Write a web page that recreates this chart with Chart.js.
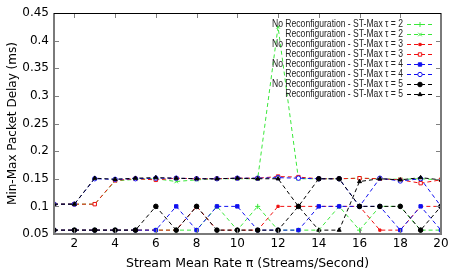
<!DOCTYPE html>
<html>
<head>
<meta charset="utf-8">
<script src="https://cdn.jsdelivr.net/npm/chart.js@4.4.0/dist/chart.umd.min.js"></script>
<style>
    html, body { margin: 0; padding: 0; background: #fff; }
    #delayChart { display: block; }
</style>
</head>
<body>
<canvas id="delayChart" width="457" height="274"></canvas>
<script>
// stream mean rate (x) and tick labels
const rates = [1, 2, 3, 4, 5, 6, 7, 8, 9, 10, 11, 12, 13, 14, 15, 16, 17, 18, 19, 20];
const xTicks = [2, 4, 6, 8, 10, 12, 14, 16, 18, 20];
const yTicks = [0.05, 0.1, 0.15, 0.2, 0.25, 0.3, 0.35, 0.4, 0.45];

const seriesLabels = [
    "No Reconfiguration - ST-Max τ = 2",
    "Reconfiguration - ST-Max τ = 2",
    "No Reconfiguration - ST-Max τ = 3",
    "Reconfiguration - ST-Max τ = 3",
    "No Reconfiguration - ST-Max τ = 4",
    "Reconfiguration - ST-Max τ = 4",
    "No Reconfiguration - ST-Max τ = 5",
    "Reconfiguration - ST-Max τ = 5"
];

// min-max packet delay (ms)
const noReconf2 = [0.057, 0.057, 0.057, 0.057, 0.057, 0.057, 0.057, 0.057, 0.1, 0.057, 0.1, 0.057, 0.057, 0.057, 0.1, 0.057, 0.1, 0.1, 0.057, 0.057];
const reconf2   = [0.104, 0.104, 0.104, 0.146, 0.149, 0.15, 0.145, 0.148, 0.15, 0.15, 0.15, 0.425, 0.15, 0.15, 0.15, 0.151, 0.15, 0.149, 0.15, 0.148];
const noReconf3 = [0.057, 0.057, 0.057, 0.057, 0.057, 0.057, 0.057, 0.1, 0.057, 0.057, 0.057, 0.1, 0.1, 0.1, 0.1, 0.1, 0.057, 0.057, 0.1, 0.1];
const reconf3   = [0.104, 0.104, 0.104, 0.147, 0.15, 0.148, 0.151, 0.15, 0.15, 0.151, 0.151, 0.154, 0.153, 0.15, 0.15, 0.151, 0.15, 0.148, 0.142, 0.148];
const noReconf4 = [0.057, 0.057, 0.057, 0.057, 0.057, 0.057, 0.1, 0.057, 0.1, 0.1, 0.057, 0.057, 0.057, 0.1, 0.1, 0.1, 0.1, 0.057, 0.1, 0.057];
const reconf4   = [0.104, 0.104, 0.15, 0.149, 0.15, 0.151, 0.151, 0.15, 0.15, 0.151, 0.151, 0.152, 0.151, 0.15, 0.15, 0.1, 0.151, 0.146, 0.15, 0.1];
const noReconf5 = [0.057, 0.057, 0.057, 0.057, 0.057, 0.1, 0.057, 0.1, 0.057, 0.057, 0.057, 0.057, 0.1, 0.15, 0.15, 0.1, 0.1, 0.1, 0.057, 0.1];
const reconf5   = [0.104, 0.104, 0.151, 0.149, 0.151, 0.152, 0.151, 0.15, 0.15, 0.151, 0.15, 0.15, 0.1, 0.057, 0.057, 0.145, 0.15, 0.148, 0.152, 0.148];

const allSeries = [noReconf2, reconf2, noReconf3, reconf3, noReconf4, reconf4, noReconf5, reconf5];

const GREEN = '#3ae83a';
const RED = '#f01010';
const BLUE = '#1010f0';
const BLACK = '#000';

const styles = [
    { color: GREEN, pointStyle: 'cross',    radius: 2.5, fill: GREEN },
    { color: GREEN, pointStyle: 'crossRot', radius: 2.5, fill: GREEN },
    { color: RED,   pointStyle: 'rect',     radius: 1.6, fill: RED },
    { color: RED,   pointStyle: 'rect',     radius: 2.4, fill: '#fff' },
    { color: BLUE,  pointStyle: 'rect',     radius: 2.4, fill: BLUE },
    { color: BLUE,  pointStyle: 'circle',   radius: 2.2, fill: '#fff' },
    { color: BLACK, pointStyle: 'circle',   radius: 2.3, fill: BLACK },
    { color: BLACK, pointStyle: 'triangle', radius: 2.3, fill: BLACK }
];

const datasets = allSeries.map((values, i) => ({
    label: seriesLabels[i],
    data: values.map((v, k) => ({ x: rates[k], y: v })),
    borderColor: styles[i].color,
    backgroundColor: styles[i].fill,
    borderWidth: 1,
    borderDash: [4, 3],
    pointStyle: styles[i].pointStyle,
    pointRadius: styles[i].radius,
    pointBorderColor: styles[i].color,
    pointBackgroundColor: styles[i].fill,
    pointBorderWidth: 1,
    tension: 0,
    fill: false,
    order: 8 - i
}));

// gnuplot-like frame with inward ticks on all four sides
const framePlugin = {
    id: 'frame',
    afterDraw(chart) {
        const { ctx, chartArea: a, scales } = chart;
        ctx.save();
        ctx.strokeStyle = '#808080';
        ctx.lineWidth = 1;
        xTicks.forEach(t => {
            const px = Math.round(scales.x.getPixelForValue(t)) + 0.5;
            ctx.beginPath();
            ctx.moveTo(px, a.bottom); ctx.lineTo(px, a.bottom - 5);
            ctx.moveTo(px, a.top); ctx.lineTo(px, a.top + 5);
            ctx.stroke();
        });
        yTicks.forEach(t => {
            const py = Math.round(scales.y.getPixelForValue(t)) + 0.5;
            ctx.beginPath();
            ctx.moveTo(a.left, py); ctx.lineTo(a.left + 5, py);
            ctx.moveTo(a.right, py); ctx.lineTo(a.right - 5, py);
            ctx.stroke();
        });
        ctx.lineWidth = 2;
        ctx.strokeStyle = '#7a7a7a';
        ctx.beginPath();
        ctx.moveTo(a.left, a.top);
        ctx.lineTo(a.left, a.bottom);
        ctx.lineTo(a.right, a.bottom);
        ctx.lineTo(a.right, a.top);
        ctx.stroke();
        ctx.lineWidth = 1;
        ctx.strokeStyle = '#000';
        ctx.beginPath();
        ctx.moveTo(a.left, a.top + 0.5);
        ctx.lineTo(a.right, a.top + 0.5);
        ctx.stroke();
        ctx.restore();
    }
};

// key in the top right corner: text, then dashed sample with marker
const keyPlugin = {
    id: 'key',
    afterDraw(chart) {
        const ctx = chart.ctx;
        const textRight = 403;
        const lineFrom = 407;
        const lineTo = 433;
        ctx.save();
        ctx.font = '10px "Liberation Sans", Arial, sans-serif';
        ctx.textAlign = 'right';
        ctx.textBaseline = 'middle';
        // squeeze the text so the longest entry is about 130px wide, like the original
        const widest = Math.max(...chart.data.datasets.map(ds => ctx.measureText(ds.label).width));
        const sx = Math.min(1, 131 / widest);
        chart.data.datasets.forEach((ds, i) => {
            const y = 24 + i * 10;
            ctx.save();
            ctx.translate(textRight, y);
            ctx.scale(sx, 1);
            ctx.fillStyle = '#222';
            ctx.fillText(ds.label, 0, 0);
            ctx.restore();
            ctx.strokeStyle = ds.borderColor;
            ctx.lineWidth = 1;
            ctx.setLineDash([4, 3]);
            ctx.beginPath();
            ctx.moveTo(lineFrom, y + 0.5);
            ctx.lineTo(lineTo, y + 0.5);
            ctx.stroke();
            ctx.setLineDash([]);
            ctx.fillStyle = ds.pointBackgroundColor;
            ctx.strokeStyle = ds.pointBorderColor;
            Chart.helpers.drawPoint(ctx, {
                pointStyle: ds.pointStyle,
                radius: ds.pointRadius,
                rotation: 0,
                borderWidth: 1
            }, (lineFrom + lineTo) / 2, y + 0.5);
        });
        ctx.restore();
    }
};

new Chart(document.getElementById('delayChart'), {
    type: 'line',
    data: { datasets: datasets },
    plugins: [framePlugin, keyPlugin],
    options: {
        responsive: false,
        animation: false,
        layout: {
            padding: { top: 13, right: 16, left: 0, bottom: 0 }
        },
        plugins: {
            legend: { display: false },
            tooltip: { enabled: false }
        },
        scales: {
            x: {
                type: 'linear',
                min: 1,
                max: 20,
                afterBuildTicks: (scale) => {
                    scale.ticks = xTicks.map(v => ({ value: v }));
                },
                afterFit: (scale) => { scale.height = 40; },
                grid: { display: false, drawTicks: false },
                border: { display: false },
                ticks: {
                    padding: 3,
                    color: '#000',
                    maxRotation: 0,
                    font: { family: '"DejaVu Sans"', size: 12 }
                },
                title: {
                    display: true,
                    text: 'Stream Mean Rate π (Streams/Second)',
                    color: '#000',
                    padding: { top: 0, bottom: 3 },
                    font: { family: '"DejaVu Sans"', size: 12.5 }
                }
            },
            y: {
                min: 0.05,
                max: 0.45,
                afterBuildTicks: (scale) => {
                    scale.ticks = yTicks.map(v => ({ value: v }));
                },
                afterFit: (scale) => { scale.width = 54; },
                grid: { display: false, drawTicks: false },
                border: { display: false },
                ticks: {
                    padding: 5,
                    color: '#000',
                    font: { family: '"DejaVu Sans"', size: 12 },
                    callback: (v) => String(parseFloat(v.toFixed(2)))
                },
                title: {
                    display: true,
                    text: 'Min-Max Packet Delay (ms)',
                    color: '#000',
                    padding: { top: 6, bottom: 0 },
                    font: { family: '"DejaVu Sans"', size: 12 }
                }
            }
        }
    }
});
</script>
</body>
</html>
